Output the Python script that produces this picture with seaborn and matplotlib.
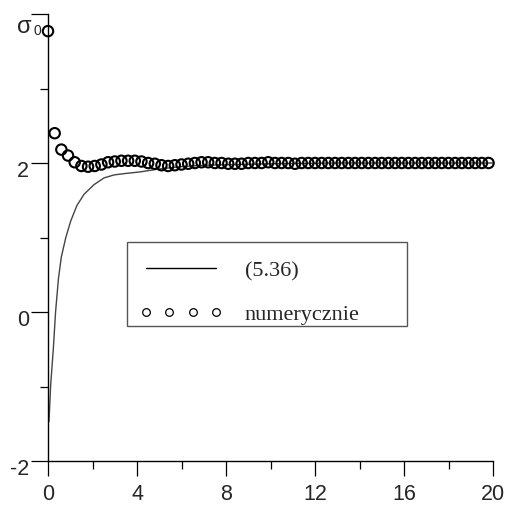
import numpy as np
import pandas as pd
import matplotlib
matplotlib.use("Agg")
import matplotlib.pyplot as plt
from matplotlib.lines import Line2D
from matplotlib.patches import Rectangle
from matplotlib.transforms import ScaledTranslation
import seaborn as sns

# ---- data ----
line_x = [0.045, 0.12, 0.24, 0.34, 0.47, 0.60, 0.80, 1.02, 1.30, 1.62, 2.07,
          2.52, 2.97, 3.5, 4.13, 5.0, 5.93, 7.0, 8.5, 10.0, 13.0, 16.0, 20.0]
line_y = [-1.47, -0.98, -0.49, 0.0, 0.45, 0.74, 1.00, 1.22, 1.43, 1.58, 1.71,
          1.80, 1.84, 1.86, 1.88, 1.92, 1.95, 1.97, 1.98, 1.99, 2.0, 2.0, 2.0]

num_x = list(np.round(np.arange(67) * 0.3, 2))
num_y = [3.77, 2.40, 2.18, 2.10, 2.01, 1.96, 1.95, 1.96, 1.98, 2.01, 2.02,
         2.03, 2.03, 2.03, 2.02, 2.00, 1.99, 1.97, 1.96, 1.97, 1.98, 1.99,
         2.00, 2.01, 2.01, 2.00, 2.00, 1.99, 1.99, 1.99, 2.00,
         2.00, 2.00, 2.01, 2.00, 2.00, 2.00, 1.99, 2.00, 2.00, 2.00, 2.00,
         2.00, 2.00, 2.00, 2.00, 2.00, 2.00, 2.00, 2.00, 2.00, 2.00, 2.00,
         2.00, 2.00, 2.00, 2.00, 2.00, 2.00, 2.00, 2.00, 2.00, 2.00, 2.00,
         2.00, 2.00, 2.00]

x_major = [0, 4, 8, 12, 16, 20]
x_minor = [2, 6, 10, 14, 18]
y_major = [-2, 0, 2, 4]
y_labels = ["-2", "0", "2", ""]
y_minor = [-1, 1, 3]

legend_labels = ["(5.36)", "numerycznie"]

line_df = pd.DataFrame({"x": line_x, "y": line_y})
num_df = pd.DataFrame({"x": num_x, "y": num_y})

sns.set_style("ticks")
plt.rcParams["font.family"] = ["Liberation Sans", "DejaVu Sans"]

W, H = 512, 506
fig = plt.figure(figsize=(W / 100, H / 100), dpi=100)
ax = fig.add_axes([48 / W, (H - 462) / H, 445 / W, 447 / H])

sns.lineplot(data=line_df, x="x", y="y", ax=ax, color="#444444",
             linewidth=1.0, estimator=None, sort=False)
sns.scatterplot(data=num_df, x="x", y="y", ax=ax, marker="o", s=56,
                facecolor="none", edgecolor="black", linewidth=1.5,
                clip_on=False, zorder=3)

ax.set_xlim(0, 20)
ax.set_ylim(-2, 4)
ax.set_xticks(x_major)
ax.set_xticks(x_minor, minor=True)
ax.set_yticks(y_major)
ax.set_yticklabels(y_labels)
ax.set_yticks(y_minor, minor=True)
ax.set_xlabel("")
ax.set_ylabel("")

for s in ["top", "right"]:
    ax.spines[s].set_visible(False)
for s in ["left", "bottom"]:
    ax.spines[s].set_linewidth(1.0)
    ax.spines[s].set_color("black")

ax.tick_params(which="major", direction="out", width=0.9,
               labelsize=15.5, color="black")
ax.tick_params(axis="x", which="major", length=11, pad=5)
ax.tick_params(axis="y", which="major", length=12, pad=1.5)
ax.tick_params(which="minor", direction="out", length=5.5, width=0.9,
               color="black")

off = ScaledTranslation(0, -0.05, fig.dpi_scale_trans)
for lab in ax.get_yticklabels():
    lab.set_transform(lab.get_transform() + off)

# sigma_0 label
fig.text(17 / W, 1 - 27 / H, "σ", fontsize=17, ha="left", va="center")
fig.text(33 / W, 1 - 31 / H, "0", fontsize=10, ha="left", va="center")

# legend frame (pixel box)
def ax_xy(px, py):
    return ((px - 48) / 445, (462 - py) / 447)

x0, y1 = ax_xy(127, 243)
x1, y0 = ax_xy(407, 327)
ax.add_patch(Rectangle((x0, y0), x1 - x0, y1 - y0, transform=ax.transAxes,
                       facecolor="white", edgecolor="#555555",
                       linewidth=1.0, zorder=4))

handles = [
    Line2D([], [], color="black", linewidth=1.0),
    Line2D([], [], linestyle="none", marker="o", markersize=5.5,
           markerfacecolor="none", markeredgecolor="black",
           markeredgewidth=0.9),
]
lx, ly = ax_xy(126, 248)
leg = ax.legend(handles, legend_labels, loc="upper left",
                bbox_to_anchor=(lx, ly), borderaxespad=0,
                numpoints=4, handlelength=3.75, handletextpad=1.0,
                borderpad=0.6, labelspacing=1.03, frameon=False,
                prop={"family": "Liberation Serif", "size": 16})
leg.set_zorder(5)

fig.savefig("out.png", dpi=100)
